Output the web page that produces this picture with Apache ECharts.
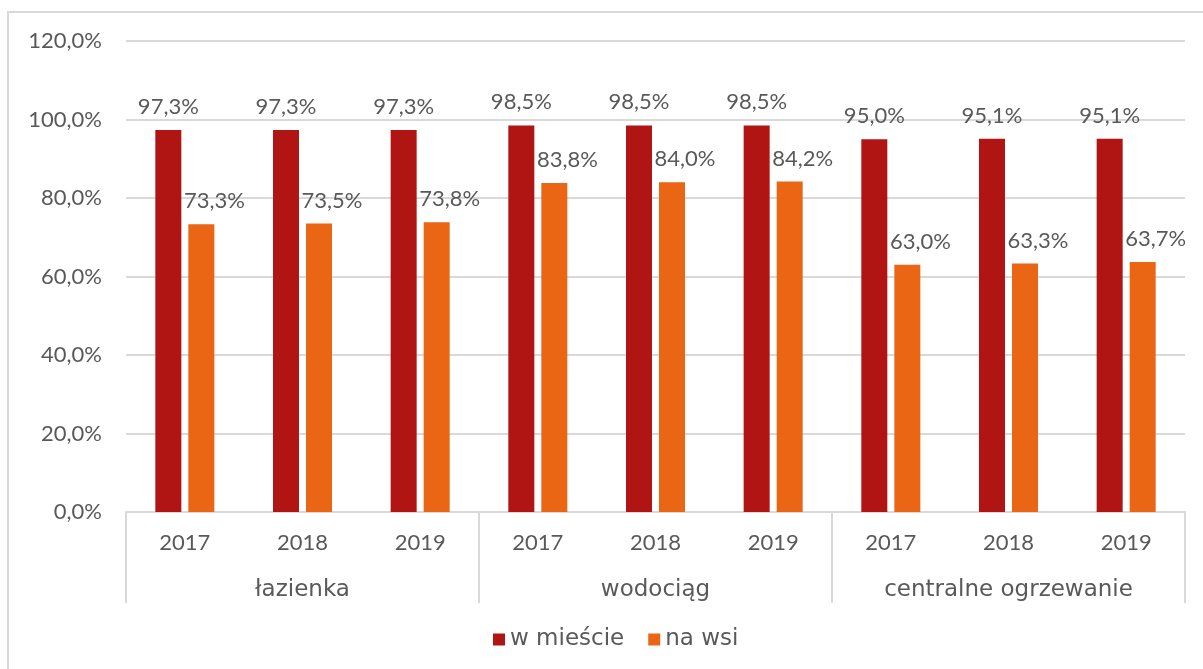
<!DOCTYPE html>
<html>
<head>
<meta charset="utf-8">
<script src="https://cdn.jsdelivr.net/npm/echarts@6/dist/echarts.min.js"></script>
<style>
  html, body { margin: 0; padding: 0; background: #ffffff; overflow: hidden; }
  #frame {
    position: absolute; left: 7px; top: 11px; width: 1220px; height: 700px;
    border: 2px solid #d9d9d9; box-sizing: border-box;
  }
  #chart { position: absolute; left: 0; top: 0; width: 1203px; height: 669px; }
</style>
</head>
<body>
<div id="frame"></div>
<div id="chart"></div>
<script>
// Years repeated in each amenity group
const years = ['2017', '2018', '2019', '2017', '2018', '2019', '2017', '2018', '2019'];
// Amenity groups (second axis level)
const groups = ['łazienka', 'wodociąg', 'centralne ogrzewanie'];
// Share of dwellings equipped, in percent
const townValues = [97.3, 97.3, 97.3, 98.5, 98.5, 98.5, 95.0, 95.1, 95.1];
const villageValues = [73.3, 73.5, 73.8, 83.8, 84.0, 84.2, 63.0, 63.3, 63.7];
const seriesNames = ['w mieście', 'na wsi'];
// Y axis range
const yMin = 0, yMax = 120, yStep = 20;

const FONT = 'Lato';
const WORD_FONT = 'DejaVu Sans';
const TEXT = '#595959';
const LINE = '#d9d9d9';

const pct = v => v.toFixed(1).replace('.', ',') + '%';

const chart = echarts.init(document.getElementById('chart'), null, { renderer: 'canvas' });
chart.setOption({
  animation: false,
  textStyle: { fontFamily: FONT, color: TEXT },
  grid: { left: 126, right: 18, top: 41, bottom: 157, containLabel: false },
  legend: {
    bottom: 13,
    left: 488,
    icon: 'rect',
    itemWidth: 12,
    itemHeight: 12,
    itemGap: 24,
    textStyle: { fontFamily: WORD_FONT, fontSize: 23, color: TEXT },
    data: seriesNames
  },
  xAxis: [
    {
      type: 'category',
      data: years,
      axisLine: { show: true, lineStyle: { color: LINE, width: 2 } },
      axisTick: { show: false },
      axisLabel: { color: TEXT, fontFamily: FONT, fontSize: 22, margin: 20, interval: 0 }
    },
    {
      type: 'category',
      data: groups,
      position: 'bottom',
      axisLine: { show: false },
      axisTick: { show: true, length: 91, lineStyle: { color: LINE, width: 2 } },
      axisLabel: { color: TEXT, fontFamily: WORD_FONT, fontSize: 23, margin: 67, interval: 0 },
      splitLine: { show: false }
    }
  ],
  yAxis: {
    type: 'value',
    min: yMin,
    max: yMax,
    interval: yStep,
    axisLine: { show: false },
    axisTick: { show: false },
    splitLine: { lineStyle: { color: LINE, width: 2 } },
    axisLabel: {
      color: TEXT, fontFamily: FONT, fontSize: 22, margin: 24,
      formatter: v => pct(v)
    }
  },
  series: [
    {
      name: seriesNames[0],
      type: 'bar',
      data: townValues,
      barWidth: 26,
      barGap: '27%',
      itemStyle: { color: '#b01513' },
      label: {
        show: true, position: 'top', distance: 12,
        color: TEXT, fontFamily: FONT, fontSize: 22,
        formatter: p => pct(p.value)
      }
    },
    {
      name: seriesNames[1],
      type: 'bar',
      data: villageValues,
      barWidth: 26,
      itemStyle: { color: '#ea6514' },
      label: {
        show: true, position: 'top', distance: 12, offset: [13, 0],
        color: TEXT, fontFamily: FONT, fontSize: 22,
        formatter: p => pct(p.value)
      }
    }
  ]
});
</script>
</body>
</html>
